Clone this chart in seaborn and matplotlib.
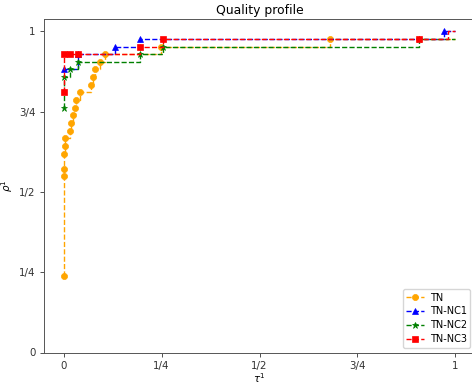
import matplotlib
matplotlib.use("Agg")
import matplotlib.pyplot as plt
import seaborn as sns

# ---- data ----
tn_x = [0.0, 0.001, 0.0015, 0.002, 0.003, 0.004, 0.016, 0.020, 0.024, 0.028,
        0.032, 0.043, 0.069, 0.075, 0.079, 0.092, 0.106, 0.248, 0.679, 1.0]
tn_y = [0.238, 0.548, 0.571, 0.619, 0.643, 0.667, 0.690, 0.714, 0.738, 0.762,
        0.786, 0.810, 0.833, 0.857, 0.881, 0.905, 0.929, 0.952, 0.976, 0.976]

nc1_x = [0.0, 0.037, 0.132, 0.196, 0.972, 1.0]
nc1_y = [0.881, 0.929, 0.952, 0.976, 1.0, 1.0]

nc2_x = [0.0, 0.0005, 0.017, 0.037, 0.196, 0.254, 0.906, 1.0]
nc2_y = [0.762, 0.857, 0.881, 0.905, 0.929, 0.952, 0.976, 0.976]

nc3_x = [0.0, 0.0005, 0.017, 0.037, 0.196, 0.254, 0.906, 0.980, 1.0]
nc3_y = [0.810, 0.929, 0.929, 0.929, 0.952, 0.976, 0.976, 1.0, 1.0]

series_names = ["TN", "TN-NC1", "TN-NC2", "TN-NC3"]
tick_vals = [0, 0.25, 0.5, 0.75, 1]
tick_labels = ["0", "1/4", "1/2", "3/4", "1"]

# ---- figure ----
fig = plt.figure(figsize=(4.72, 3.85), dpi=100)
ax = fig.add_axes([44 / 472, 1 - 352.5 / 385, (475 - 44) / 472, (352.5 - 19) / 385])

styles = [
    (tn_x, tn_y, "orange", "o", 4.4, len(tn_x) - 1),
    (nc1_x, nc1_y, "blue", "^", 4.4, len(nc1_x) - 1),
    (nc2_x, nc2_y, "green", "*", 4.8, len(nc2_x) - 1),
    (nc3_x, nc3_y, "red", "s", 4.2, len(nc3_x) - 2),
]
for (xs, ys, col, mk, ms, nmark), name in zip(styles, series_names):
    sns.lineplot(x=xs, y=ys, estimator=None, sort=False, ax=ax,
                 drawstyle="steps-post", linestyle="--", linewidth=1.0,
                 color=col, marker=mk, markersize=ms,
                 markeredgecolor=col, markeredgewidth=0.5,
                 markevery=list(range(nmark)), label=name)

ax.set_xlim(-0.05, 1.05)
ax.set_ylim(0, 1.038)
ax.set_xticks(tick_vals)
ax.set_xticklabels(tick_labels)
ax.set_yticks(tick_vals)
ax.set_yticklabels(tick_labels)
ax.tick_params(labelsize=7.4, length=2.6, width=0.6, colors="#333333")
for sp in ax.spines.values():
    sp.set_linewidth(0.7)
    sp.set_color("#555555")

ax.set_title("Quality profile", fontsize=8.9, pad=3.5)
ax.set_xlabel(r"$\tau^1$", fontsize=7.4, labelpad=0)
ax.set_ylabel(r"$\rho^1$", fontsize=7.4, labelpad=3)

ax.legend(loc="lower right", fontsize=7.0, handlelength=1.8,
          borderaxespad=0.5, handletextpad=0.6, borderpad=0.35, labelspacing=0.4)

fig.savefig("out.png", dpi=100)
